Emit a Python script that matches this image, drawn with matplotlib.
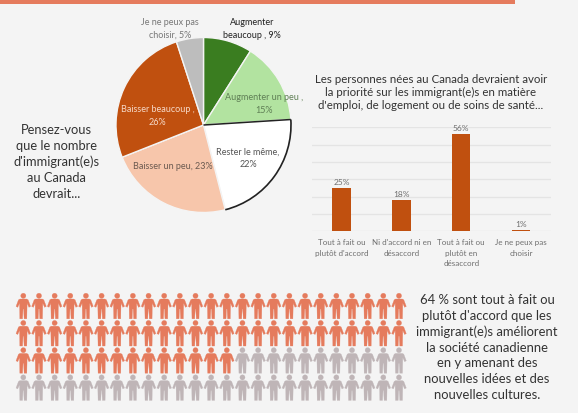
#!/usr/bin/env python3
import numpy as np
import matplotlib
matplotlib.use("Agg")
import matplotlib.pyplot as plt
from matplotlib.patches import Arc, Rectangle
from matplotlib.path import Path

W, H = 578, 414
BG = "#f4f4f4"
ORANGE = "#c0500f"
SALMON = "#e57b5d"
GREY_FIG = "#bfb5b7"
INK = "#333333"
LABEL = "#6f6f6f"

# pie
pie_labels = ["Augmenter\nbeaucoup , 9%", "Augmenter un peu ,\n15%", "Rester le même,\n22%",
              "Baisser un peu, 23%", "Baisser beaucoup ,\n26%", "Je ne peux pas\nchoisir, 5%"]
pie_values = [9, 15, 22, 23, 26, 5]
pie_colors = ["#3a7d20", "#b2e3a0", "#ffffff", "#f7c6ab", ORANGE, "#bdbdbd"]
pie_text_colors = ["#222222", "#5f7f55", "#555555", "#6b5a50", "#f6d9c8", "#777777"]
pie_text_pos = [(252, 29), (264.5, 104), (248, 158), (172.5, 167), (157.5, 116), (170, 29)]

# bars
bar_labels = ["Tout à fait ou\nplutôt d'accord", "Ni d'accord ni en\ndésaccord",
              "Tout à fait ou\nplutôt en\ndésaccord", "Je ne peux pas\nchoisir"]
bar_values = [25, 18, 56, 1]

# people
people_total = 100
people_agree = 64
people_cols = 25

question = "Pensez-vous\nque le nombre\nd'immigrant(e)s\nau Canada\ndevrait..."
bar_title = ("Les personnes nées au Canada devraient avoir\n"
             "la priorité sur les immigrant(e)s en matière\n"
             "d'emploi, de logement ou de soins de santé...")
people_text = ("64 % sont tout à fait ou\nplutôt d'accord que les\nimmigrant(e)s améliorent\n"
               "la société canadienne\nen y amenant des\nnouvelles idées et des\nnouvelles cultures.")


def axes_px(fig, left, top, right, bottom):
    return fig.add_axes([left / W, 1 - bottom / H, (right - left) / W, (bottom - top) / H])


def px_text(fig, x, y, s, **kw):
    fig.text(x / W, 1 - y / H, s, ha="center", va="center", **kw)


def person_marker():
    # little standing man, y up, drawn around his middle
    t = np.linspace(0, 2 * np.pi, 17)
    head = np.column_stack([2.6 * np.cos(t), 10.2 + 2.6 * np.sin(t)])
    body = np.array([(-3.4, 7.0), (3.4, 7.0), (4.8, 6.2), (7.3, -0.4), (5.6, -1.3), (3.8, 2.8),
                     (3.7, -2.0), (3.5, -12.8), (0.8, -12.8), (0.3, -3.0), (-0.3, -3.0),
                     (-0.8, -12.8), (-3.5, -12.8), (-3.7, -2.0), (-3.8, 2.8), (-5.6, -1.3),
                     (-7.3, -0.4), (-4.8, 6.2), (-3.4, 7.0)])
    verts = np.vstack([head, body])
    codes = [Path.MOVETO] + [Path.LINETO] * (len(head) - 2) + [Path.CLOSEPOLY]
    codes += [Path.MOVETO] + [Path.LINETO] * (len(body) - 2) + [Path.CLOSEPOLY]
    return Path(verts, codes)


fig = plt.figure(figsize=(W / 100, H / 100), dpi=100, facecolor=BG)

# top band
fig.add_artist(Rectangle((0, 1 - 4.5 / H), 515 / W, 4.5 / H, transform=fig.transFigure, color=SALMON, lw=0))

# pie
ax = axes_px(fig, 116, 38.5, 291, 213.5)
wedges, _ = ax.pie(pie_values, colors=pie_colors, startangle=90, counterclock=False,
                   wedgeprops=dict(edgecolor="#f4f4f4", linewidth=1.0))
ax.set_xlim(-1, 1)
ax.set_ylim(-1, 1)
w = wedges[2]
ax.add_patch(Arc((0, 0), 2, 2, theta1=w.theta1, theta2=w.theta2, color="#222222", lw=1.2, clip_on=False))
a = np.deg2rad(w.theta2)
ax.plot([0, np.cos(a)], [0, np.sin(a)], color="#222222", lw=1.1, solid_capstyle="butt")
for lab, c, (x, y) in zip(pie_labels, pie_text_colors, pie_text_pos):
    px_text(fig, x, y, lab, color=c, fontsize=6.5, family="Lato", linespacing=1.45)

# bars
ax = axes_px(fig, 311.5, 128.3, 551, 232.3)
ax.set_facecolor("none")
x = np.arange(len(bar_values))
bars = ax.bar(x, bar_values, width=0.31, color=ORANGE, zorder=3)
ax.bar_label(bars, labels=[f"{v}%" for v in bar_values], padding=2, fontsize=6.0, color=LABEL, family="Lato")
ax.set_xlim(-0.5, 3.5)
ax.set_ylim(0, 60)
ax.set_yticks(np.arange(0, 61, 10))
ax.grid(axis="y", color="#e4e4e4", lw=0.9, zorder=0)
ax.tick_params(length=0, labelleft=False)
ax.set_xticks(x)
ax.set_xticklabels(bar_labels, fontsize=5.8, color=LABEL, family="Lato", linespacing=1.6)
ax.tick_params(axis="x", pad=5.0)
for s in ax.spines.values():
    s.set_visible(False)

# people
ax = axes_px(fig, 15.5, 293.4, 406.8, 402.2)
ax.axis("off")
ax.set_xlim(-0.5, people_cols - 0.5)
ax.set_ylim(3.5, -0.5)
idx = np.arange(people_total)
cols = idx % people_cols
rows = idx // people_cols
clr = [SALMON if i < people_agree else GREY_FIG for i in idx]
ax.scatter(cols, rows, marker=person_marker(), s=340, c=clr, edgecolors=clr, linewidths=0.2, clip_on=False)

# text blocks
px_text(fig, 56.5, 162, question, fontsize=9.3, color=INK, family="Lato", linespacing=1.38)
px_text(fig, 431, 92.5, bar_title, fontsize=8.3, color=INK, family="Lato", linespacing=1.25)
px_text(fig, 487, 347.5, people_text, fontsize=9.4, color=INK, family="Lato", linespacing=1.36)

fig.savefig("out.png", dpi=100, facecolor=BG)
